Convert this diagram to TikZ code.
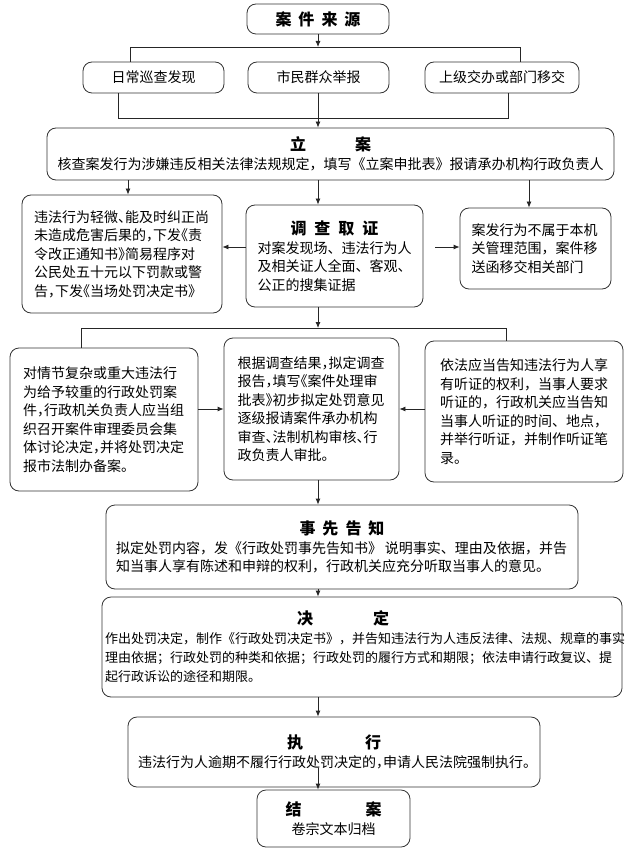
\documentclass[tikz,border=0pt]{standalone}
\usepackage{fontspec}
\setmainfont{Noto Sans CJK SC}
\newfontfamily\halffont{Noto Sans CJK SC}[RawFeature=+halt]
\usetikzlibrary{calc,positioning,arrows.meta,shapes}

\newcommand{\ttl}[1]{{\fontsize{16}{18}\selectfont\bfseries #1}}

\tikzset{
  box/.style={draw=black!80, line width=0.8pt, rounded corners=9pt, inner sep=0pt,
    font=\fontsize{14}{18.5}\selectfont},
  arr/.style={-{Latex[length=6pt,width=5pt]}, line width=0.8pt, draw=black!85},
  link/.style={line width=0.8pt, draw=black!85},
}

\begin{document}
\begin{tikzpicture}[x=1pt,y=-1pt]
  \useasboundingbox (0,0) rectangle (629,850);

  % sources
  \node[box, minimum width=142pt, minimum height=30pt, align=center] at (318,19) (src)
    {\ttl{案\hspace{7pt}件\hspace{7pt}来\hspace{7pt}源}};
  \node[box, minimum width=141pt, minimum height=31pt] at (153.5,77.5) (b1) {日常巡查发现};
  \node[box, minimum width=141pt, minimum height=31pt] at (318.5,77.5) (b2) {市民群众举报};
  \node[box, minimum width=154pt, minimum height=31pt] at (502,77.5) (b3) {上级交办或部门移交};

  % filing
  \node[box, minimum width=567pt, minimum height=52pt, align=center] at (330.5,154) (file)
    {\ttl{立\hspace{49pt}案}\\核查案发行为涉嫌违反相关法律法规规定，填写《立案申批表》报请承办机构行政负责人};

  % investigation row
  \node[box, minimum width=200pt, minimum height=118pt, text width=176pt, align=left] at (122,254) (light)
    {\halffont 违法行为轻微、能及时纠正尚\\未造成危害后果的，下发《责\\令改正通知书》简易程序对\\公民处五十元以下罚款或警\\告，下发《当场处罚决定书》};
  \node[box, minimum width=177pt, minimum height=102pt, text width=154pt, align=left] at (334.5,256) (inv)
    {{\centering\ttl{调\hspace{8pt}查\hspace{8pt}取\hspace{8pt}证}\par}对案发现场、违法行为人\\及相关证人全面、客观、\\公正的搜集证据};
  \node[box, minimum width=151pt, minimum height=81pt, text width=128pt, align=left] at (535.5,248.5) (outside)
    {案发行为不属于本机\\关管理范围，案件移\\送函移交相关部门};

  % decision row
  \node[box, minimum width=188pt, minimum height=143pt, text width=162pt, align=left] at (104,419.5) (major)
    {\halffont 对情节复杂或重大违法行\\为给予较重的行政处罚案\\件，行政机关负责人应当组\\织召开案件审理委员会集\\体讨论决定，并将处罚决定\\报市法制办备案。};
  \node[box, minimum width=175pt, minimum height=142pt, text width=148pt, align=left] at (311.5,409) (report)
    {\halffont 根据调查结果，拟定调查\\报告，填写《案件处理审\\批表》初步拟定处罚意见\\逐级报请案件承办机构\\审查、法制机构审核、行\\政负责人审批。};
  \node[box, minimum width=198pt, minimum height=141pt, text width=168pt, align=left] at (524,411.5) (hearing)
    {依法应当告知违法行为人享\\有听证的权利，当事人要求\\听证的，行政机关应当告知\\当事人听证的时间、地点，\\并举行听证，并制作听证笔\\录。};

  % notice, decision, execution, closing
  \node[box, minimum width=472pt, minimum height=84pt, text width=452pt, align=left] at (342,547) (notice)
    {{\centering\ttl{事\hspace{7pt}先\hspace{7pt}告\hspace{7pt}知}\par}拟定处罚内容，发《行政处罚事先告知书》\hspace*{3pt}说明事实、理由及依据，并告\\知当事人享有陈述和申辩的权利，行政机关应充分听取当事人的意见。};
  \node[box, minimum width=520pt, minimum height=100pt, text width=514pt, align=left,
    font=\fontsize{13}{19}\selectfont] at (362,647) (decide)
    {{\centering\hspace*{-38pt}\ttl{决\hspace{60pt}定}\par}作出处罚决定，制作《行政处罚决定书》，并告知违法行为人违反法律、法规、规章的事实\\理由依据；行政处罚的种类和依据；行政处罚的履行方式和期限；依法申请行政复议、提\\起行政诉讼的途径和期限。};
  \node[box, minimum width=412pt, minimum height=70pt, align=center] at (334,752) (exec)
    {\ttl{执\hspace{62pt}行}\\\halffont 违法行为人逾期不履行行政处罚决定的，申请人民法院强制执行。};
  \node[box, minimum width=153pt, minimum height=57pt, align=center] at (333.5,818.5) (close)
    {\ttl{结\hspace{64pt}案}\\卷宗文本归档};

  \coordinate (srcjoin) at (318,47);
  \coordinate (srcL) at (130,47);
  \coordinate (srcR) at (520,47);
  \coordinate (rowL) at (118,118);
  \coordinate (rowR) at (508,118);
  \coordinate (colL) at (128,0);
  \coordinate (colM) at (318,0);
  \coordinate (colR) at (529,0);
  \coordinate (rowA) at (0,247);
  \coordinate (gapR) at (435,247);
  \coordinate (invjoin) at (318,328);
  \coordinate (splitL) at (81,328);
  \coordinate (splitR) at (506,328);
  \coordinate (rowB) at (0,409);
  \coordinate (execout) at (318,768);

  % connectors
  \draw[arr] (src) -- (srcjoin);
  \draw[link] (srcL |- b1.north) -- (srcL) -- (srcR) -- (srcR |- b3.north);
  \draw[link] (rowL |- b1.south) -- (rowL) -- (rowR) -- (rowR |- b3.south);
  \draw[arr] (b2.south -| colM) -- (file.north -| colM);

  \draw[arr] (file.south -| colL) -- (light.north -| colL);
  \draw[arr] (file.south -| colM) -- (inv.north -| colM);
  \draw[arr] (file.south -| colR) -- (outside.north -| colR);
  \draw[arr] (inv.west |- rowA) -- (light.east |- rowA);
  \draw[arr] (gapR) -- (outside.west |- gapR);

  \draw[arr] (inv.south -| colM) -- (invjoin);
  \draw[link] (splitL |- major.north) -- (splitL) -- (splitR) -- (splitR |- hearing.north);
  \draw[arr] (major.east |- rowB) -- (report.west |- rowB);
  \draw[arr] (hearing.west |- rowB) -- (report.east |- rowB);

  \draw[arr] (report.south -| colM) -- (notice.north -| colM);
  \draw[arr] (notice.south -| colM) -- (decide.north -| colM);
  \draw[arr] (decide.south -| colM) -- (exec.north -| colM);
  \draw[arr] (execout) -- (close.north -| execout);
\end{tikzpicture}
\end{document}
